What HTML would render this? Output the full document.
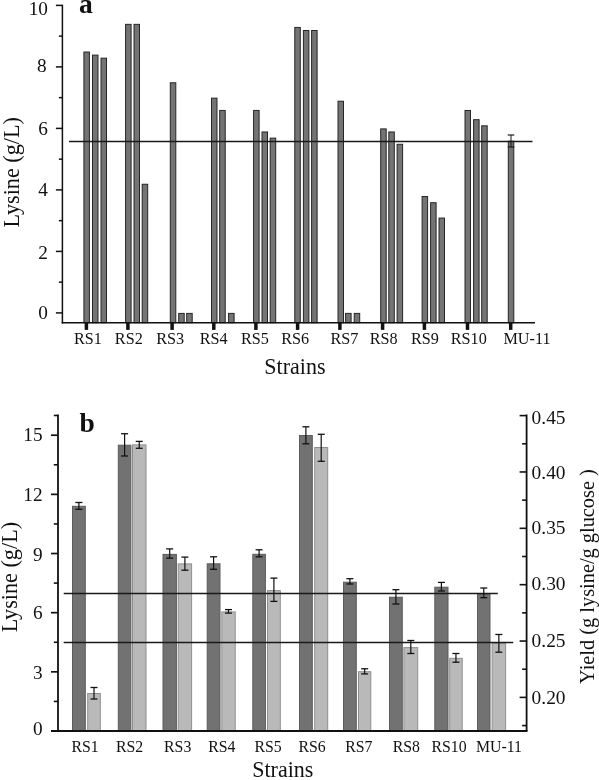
<!DOCTYPE html>
<html><head><meta charset="utf-8"><title>Figure</title>
<style>
html,body{margin:0;padding:0;background:#fff;}
body{width:599px;height:780px;overflow:hidden;}
svg{display:block;opacity:0.999;will-change:transform;}
svg text{font-family:"Liberation Serif",serif;fill:#111;}
</style></head><body>
<svg width="599" height="780" viewBox="0 0 599 780">
<rect x="0" y="0" width="599" height="780" fill="#ffffff"/>
<g id="chart-a">
<rect x="83.90" y="52.02" width="5.50" height="270.68" fill="#747474" stroke="#262626" stroke-width="1.0"/>
<rect x="92.50" y="55.10" width="5.50" height="267.60" fill="#747474" stroke="#262626" stroke-width="1.0"/>
<rect x="101.00" y="58.17" width="5.50" height="264.53" fill="#747474" stroke="#262626" stroke-width="1.0"/>
<line x1="86.4" y1="322.7" x2="86.4" y2="329.9" stroke="#111" stroke-width="3.5"/>
<text x="87.9" y="343.9" font-size="16.2" text-anchor="middle" font-weight="normal">RS1</text>
<rect x="125.60" y="24.35" width="5.50" height="298.35" fill="#747474" stroke="#262626" stroke-width="1.0"/>
<rect x="134.00" y="24.35" width="5.50" height="298.35" fill="#747474" stroke="#262626" stroke-width="1.0"/>
<rect x="142.20" y="184.25" width="5.50" height="138.45" fill="#747474" stroke="#262626" stroke-width="1.0"/>
<line x1="127.9" y1="322.7" x2="127.9" y2="329.9" stroke="#111" stroke-width="3.5"/>
<text x="128.8" y="343.9" font-size="16.2" text-anchor="middle" font-weight="normal">RS2</text>
<rect x="170.30" y="82.77" width="5.50" height="239.93" fill="#747474" stroke="#262626" stroke-width="1.0"/>
<rect x="178.70" y="313.40" width="5.50" height="9.30" fill="#747474" stroke="#262626" stroke-width="1.0"/>
<rect x="186.70" y="313.40" width="5.50" height="9.30" fill="#747474" stroke="#262626" stroke-width="1.0"/>
<line x1="172.1" y1="322.7" x2="172.1" y2="329.9" stroke="#111" stroke-width="3.5"/>
<text x="170.2" y="343.9" font-size="16.2" text-anchor="middle" font-weight="normal">RS3</text>
<rect x="211.50" y="98.15" width="5.50" height="224.55" fill="#747474" stroke="#262626" stroke-width="1.0"/>
<rect x="219.70" y="110.45" width="5.50" height="212.25" fill="#747474" stroke="#262626" stroke-width="1.0"/>
<rect x="228.60" y="313.40" width="5.50" height="9.30" fill="#747474" stroke="#262626" stroke-width="1.0"/>
<line x1="213.8" y1="322.7" x2="213.8" y2="329.9" stroke="#111" stroke-width="3.5"/>
<text x="213.6" y="343.9" font-size="16.2" text-anchor="middle" font-weight="normal">RS4</text>
<rect x="253.60" y="110.45" width="5.50" height="212.25" fill="#747474" stroke="#262626" stroke-width="1.0"/>
<rect x="262.00" y="131.97" width="5.50" height="190.73" fill="#747474" stroke="#262626" stroke-width="1.0"/>
<rect x="270.20" y="138.12" width="5.50" height="184.58" fill="#747474" stroke="#262626" stroke-width="1.0"/>
<line x1="255.9" y1="322.7" x2="255.9" y2="329.9" stroke="#111" stroke-width="3.5"/>
<text x="255" y="343.9" font-size="16.2" text-anchor="middle" font-weight="normal">RS5</text>
<rect x="294.80" y="27.42" width="5.50" height="295.28" fill="#747474" stroke="#262626" stroke-width="1.0"/>
<rect x="303.40" y="30.50" width="5.50" height="292.20" fill="#747474" stroke="#262626" stroke-width="1.0"/>
<rect x="311.60" y="30.50" width="5.50" height="292.20" fill="#747474" stroke="#262626" stroke-width="1.0"/>
<line x1="297.6" y1="322.7" x2="297.6" y2="329.9" stroke="#111" stroke-width="3.5"/>
<text x="295.1" y="343.9" font-size="16.2" text-anchor="middle" font-weight="normal">RS6</text>
<rect x="338.00" y="101.22" width="5.50" height="221.48" fill="#747474" stroke="#262626" stroke-width="1.0"/>
<rect x="345.60" y="313.40" width="5.50" height="9.30" fill="#747474" stroke="#262626" stroke-width="1.0"/>
<rect x="354.20" y="313.40" width="5.50" height="9.30" fill="#747474" stroke="#262626" stroke-width="1.0"/>
<line x1="339.9" y1="322.7" x2="339.9" y2="329.9" stroke="#111" stroke-width="3.5"/>
<text x="344.5" y="343.9" font-size="16.2" text-anchor="middle" font-weight="normal">RS7</text>
<rect x="380.70" y="128.90" width="5.50" height="193.80" fill="#747474" stroke="#262626" stroke-width="1.0"/>
<rect x="388.80" y="131.97" width="5.50" height="190.73" fill="#747474" stroke="#262626" stroke-width="1.0"/>
<rect x="397.10" y="144.27" width="5.50" height="178.43" fill="#747474" stroke="#262626" stroke-width="1.0"/>
<line x1="382.6" y1="322.7" x2="382.6" y2="329.9" stroke="#111" stroke-width="3.5"/>
<text x="383.6" y="343.9" font-size="16.2" text-anchor="middle" font-weight="normal">RS8</text>
<rect x="422.10" y="196.55" width="5.50" height="126.15" fill="#747474" stroke="#262626" stroke-width="1.0"/>
<rect x="430.60" y="202.70" width="5.50" height="120.00" fill="#747474" stroke="#262626" stroke-width="1.0"/>
<rect x="439.00" y="218.07" width="5.50" height="104.62" fill="#747474" stroke="#262626" stroke-width="1.0"/>
<line x1="424.4" y1="322.7" x2="424.4" y2="329.9" stroke="#111" stroke-width="3.5"/>
<text x="424.9" y="343.9" font-size="16.2" text-anchor="middle" font-weight="normal">RS9</text>
<rect x="465.00" y="110.45" width="5.50" height="212.25" fill="#747474" stroke="#262626" stroke-width="1.0"/>
<rect x="473.60" y="119.67" width="5.50" height="203.03" fill="#747474" stroke="#262626" stroke-width="1.0"/>
<rect x="481.70" y="125.82" width="5.50" height="196.88" fill="#747474" stroke="#262626" stroke-width="1.0"/>
<line x1="467.5" y1="322.7" x2="467.5" y2="329.9" stroke="#111" stroke-width="3.5"/>
<text x="468.8" y="343.9" font-size="16.2" text-anchor="middle" font-weight="normal">RS10</text>
<rect x="508.30" y="141.20" width="5.50" height="181.50" fill="#747474" stroke="#262626" stroke-width="1.0"/>
<line x1="510.7" y1="322.7" x2="510.7" y2="329.9" stroke="#111" stroke-width="3.5"/>
<text x="527" y="343.9" font-size="16.2" text-anchor="middle" font-weight="normal">MU-11</text>
<line x1="511.0" y1="135" x2="511.0" y2="147" stroke="#1a1a1a" stroke-width="1"/>
<line x1="507.7" y1="135" x2="514.3" y2="135" stroke="#1a1a1a" stroke-width="1.2"/>
<line x1="507.7" y1="147" x2="514.3" y2="147" stroke="#1a1a1a" stroke-width="1.2"/>
<line x1="62.4" y1="4.7" x2="62.4" y2="323.4" stroke="#111" stroke-width="1.5"/>
<line x1="61.699999999999996" y1="322.7" x2="535" y2="322.7" stroke="#111" stroke-width="1.5"/>
<line x1="55.9" y1="312.9" x2="62.4" y2="312.9" stroke="#111" stroke-width="1.5"/>
<text x="48.0" y="319.0" font-size="19.3" text-anchor="end" font-weight="normal">0</text>
<line x1="58.9" y1="282.15" x2="62.4" y2="282.15" stroke="#111" stroke-width="1.5"/>
<line x1="55.9" y1="251.39999999999998" x2="62.4" y2="251.39999999999998" stroke="#111" stroke-width="1.5"/>
<text x="48.0" y="258.7" font-size="19.3" text-anchor="end" font-weight="normal">2</text>
<line x1="58.9" y1="220.64999999999998" x2="62.4" y2="220.64999999999998" stroke="#111" stroke-width="1.5"/>
<line x1="55.9" y1="189.89999999999998" x2="62.4" y2="189.89999999999998" stroke="#111" stroke-width="1.5"/>
<text x="48.0" y="196.0" font-size="19.3" text-anchor="end" font-weight="normal">4</text>
<line x1="58.9" y1="159.14999999999998" x2="62.4" y2="159.14999999999998" stroke="#111" stroke-width="1.5"/>
<line x1="55.9" y1="128.39999999999998" x2="62.4" y2="128.39999999999998" stroke="#111" stroke-width="1.5"/>
<text x="48.0" y="134.6" font-size="19.3" text-anchor="end" font-weight="normal">6</text>
<line x1="58.9" y1="97.64999999999998" x2="62.4" y2="97.64999999999998" stroke="#111" stroke-width="1.5"/>
<line x1="55.9" y1="66.89999999999998" x2="62.4" y2="66.89999999999998" stroke="#111" stroke-width="1.5"/>
<text x="46.6" y="72.0" font-size="19.3" text-anchor="end" font-weight="normal">8</text>
<line x1="58.9" y1="36.14999999999998" x2="62.4" y2="36.14999999999998" stroke="#111" stroke-width="1.5"/>
<line x1="55.9" y1="5.399999999999977" x2="62.4" y2="5.399999999999977" stroke="#111" stroke-width="1.5"/>
<text x="48.0" y="14.65" font-size="19.3" text-anchor="end" font-weight="normal">10</text>
<line x1="69" y1="141.4" x2="532.5" y2="141.4" stroke="#1a1a1a" stroke-width="1.5"/>
<text transform="translate(18.9 227.4) rotate(-90) scale(0.926 1)" font-size="24" text-anchor="start" font-weight="normal">Lysine (g/L)</text>
<text transform="translate(264.3 374.2) rotate(0) scale(0.95 1)" font-size="23.2" text-anchor="start" font-weight="normal">Strains</text>
<text transform="translate(79.1 12.8) rotate(0) scale(1.0 1)" font-size="27.5" text-anchor="start" font-weight="bold">a</text>
</g>
<g id="chart-b">
<rect x="72.50" y="506.30" width="12.80" height="224.70" fill="#727272" stroke="#5c5c5c" stroke-width="1"/>
<rect x="87.70" y="693.50" width="12.60" height="37.50" fill="#b9b9b9" stroke="#8f8f8f" stroke-width="1"/>
<text x="85" y="752.4" font-size="15.8" text-anchor="middle" font-weight="normal">RS1</text>
<rect x="118.30" y="445.20" width="12.60" height="285.80" fill="#727272" stroke="#5c5c5c" stroke-width="1"/>
<rect x="132.50" y="444.90" width="13.50" height="286.10" fill="#b9b9b9" stroke="#8f8f8f" stroke-width="1"/>
<text x="129.6" y="752.4" font-size="15.8" text-anchor="middle" font-weight="normal">RS2</text>
<rect x="163.00" y="554.40" width="13.40" height="176.60" fill="#727272" stroke="#5c5c5c" stroke-width="1"/>
<rect x="178.20" y="563.90" width="13.40" height="167.10" fill="#b9b9b9" stroke="#8f8f8f" stroke-width="1"/>
<text x="177.7" y="752.4" font-size="15.8" text-anchor="middle" font-weight="normal">RS3</text>
<rect x="207.20" y="563.80" width="12.80" height="167.20" fill="#727272" stroke="#5c5c5c" stroke-width="1"/>
<rect x="221.80" y="611.90" width="13.40" height="119.10" fill="#b9b9b9" stroke="#8f8f8f" stroke-width="1"/>
<text x="221.8" y="752.4" font-size="15.8" text-anchor="middle" font-weight="normal">RS4</text>
<rect x="252.80" y="554.30" width="12.60" height="176.70" fill="#727272" stroke="#5c5c5c" stroke-width="1"/>
<rect x="267.50" y="590.60" width="12.80" height="140.40" fill="#b9b9b9" stroke="#8f8f8f" stroke-width="1"/>
<text x="268.1" y="752.4" font-size="15.8" text-anchor="middle" font-weight="normal">RS5</text>
<rect x="299.50" y="435.50" width="12.80" height="295.50" fill="#727272" stroke="#5c5c5c" stroke-width="1"/>
<rect x="314.70" y="447.50" width="13.00" height="283.50" fill="#b9b9b9" stroke="#8f8f8f" stroke-width="1"/>
<text x="312" y="752.4" font-size="15.8" text-anchor="middle" font-weight="normal">RS6</text>
<rect x="343.50" y="582.20" width="12.80" height="148.80" fill="#727272" stroke="#5c5c5c" stroke-width="1"/>
<rect x="358.50" y="671.70" width="12.30" height="59.30" fill="#b9b9b9" stroke="#8f8f8f" stroke-width="1"/>
<text x="358.8" y="752.4" font-size="15.8" text-anchor="middle" font-weight="normal">RS7</text>
<rect x="389.50" y="597.20" width="12.80" height="133.80" fill="#727272" stroke="#5c5c5c" stroke-width="1"/>
<rect x="403.90" y="647.60" width="13.80" height="83.40" fill="#b9b9b9" stroke="#8f8f8f" stroke-width="1"/>
<text x="406.4" y="752.4" font-size="15.8" text-anchor="middle" font-weight="normal">RS8</text>
<rect x="434.80" y="587.20" width="13.20" height="143.80" fill="#727272" stroke="#5c5c5c" stroke-width="1"/>
<rect x="449.70" y="658.30" width="12.50" height="72.70" fill="#b9b9b9" stroke="#8f8f8f" stroke-width="1"/>
<text x="449" y="752.4" font-size="15.8" text-anchor="middle" font-weight="normal">RS10</text>
<rect x="477.50" y="593.90" width="12.50" height="137.10" fill="#727272" stroke="#5c5c5c" stroke-width="1"/>
<rect x="492.10" y="643.30" width="13.50" height="87.70" fill="#b9b9b9" stroke="#8f8f8f" stroke-width="1"/>
<text x="499" y="752.4" font-size="15.8" text-anchor="middle" font-weight="normal">MU-11</text>
<line x1="63.7" y1="593.5" x2="497.8" y2="593.5" stroke="#1a1a1a" stroke-width="1.5"/>
<line x1="63.7" y1="642.4" x2="513.3" y2="642.4" stroke="#1a1a1a" stroke-width="1.5"/>
<line x1="78.9" y1="502.5" x2="78.9" y2="509.3" stroke="#111" stroke-width="1.2"/>
<line x1="75.4" y1="502.5" x2="82.4" y2="502.5" stroke="#111" stroke-width="1.3"/>
<line x1="75.4" y1="509.3" x2="82.4" y2="509.3" stroke="#111" stroke-width="1.3"/>
<line x1="94.0" y1="687.5" x2="94.0" y2="699" stroke="#111" stroke-width="1.2"/>
<line x1="90.5" y1="687.5" x2="97.5" y2="687.5" stroke="#111" stroke-width="1.3"/>
<line x1="90.5" y1="699" x2="97.5" y2="699" stroke="#111" stroke-width="1.3"/>
<line x1="124.6" y1="433.75" x2="124.6" y2="456.0" stroke="#111" stroke-width="1.2"/>
<line x1="121.1" y1="433.75" x2="128.1" y2="433.75" stroke="#111" stroke-width="1.3"/>
<line x1="121.1" y1="456.0" x2="128.1" y2="456.0" stroke="#111" stroke-width="1.3"/>
<line x1="139.25" y1="441.4" x2="139.25" y2="448.3" stroke="#111" stroke-width="1.2"/>
<line x1="135.75" y1="441.4" x2="142.75" y2="441.4" stroke="#111" stroke-width="1.3"/>
<line x1="135.75" y1="448.3" x2="142.75" y2="448.3" stroke="#111" stroke-width="1.3"/>
<line x1="169.7" y1="548.9" x2="169.7" y2="558.1" stroke="#111" stroke-width="1.2"/>
<line x1="166.2" y1="548.9" x2="173.2" y2="548.9" stroke="#111" stroke-width="1.3"/>
<line x1="166.2" y1="558.1" x2="173.2" y2="558.1" stroke="#111" stroke-width="1.3"/>
<line x1="184.89999999999998" y1="557.1" x2="184.89999999999998" y2="570.2" stroke="#111" stroke-width="1.2"/>
<line x1="181.39999999999998" y1="557.1" x2="188.39999999999998" y2="557.1" stroke="#111" stroke-width="1.3"/>
<line x1="181.39999999999998" y1="570.2" x2="188.39999999999998" y2="570.2" stroke="#111" stroke-width="1.3"/>
<line x1="213.6" y1="556.8" x2="213.6" y2="569.3" stroke="#111" stroke-width="1.2"/>
<line x1="210.1" y1="556.8" x2="217.1" y2="556.8" stroke="#111" stroke-width="1.3"/>
<line x1="210.1" y1="569.3" x2="217.1" y2="569.3" stroke="#111" stroke-width="1.3"/>
<line x1="228.5" y1="609.6" x2="228.5" y2="613.1" stroke="#111" stroke-width="1.2"/>
<line x1="225.0" y1="609.6" x2="232.0" y2="609.6" stroke="#111" stroke-width="1.3"/>
<line x1="225.0" y1="613.1" x2="232.0" y2="613.1" stroke="#111" stroke-width="1.3"/>
<line x1="259.1" y1="549.8" x2="259.1" y2="556.8" stroke="#111" stroke-width="1.2"/>
<line x1="255.60000000000002" y1="549.8" x2="262.6" y2="549.8" stroke="#111" stroke-width="1.3"/>
<line x1="255.60000000000002" y1="556.8" x2="262.6" y2="556.8" stroke="#111" stroke-width="1.3"/>
<line x1="273.9" y1="578.1" x2="273.9" y2="601.4" stroke="#111" stroke-width="1.2"/>
<line x1="270.4" y1="578.1" x2="277.4" y2="578.1" stroke="#111" stroke-width="1.3"/>
<line x1="270.4" y1="601.4" x2="277.4" y2="601.4" stroke="#111" stroke-width="1.3"/>
<line x1="305.9" y1="426.8" x2="305.9" y2="443.8" stroke="#111" stroke-width="1.2"/>
<line x1="302.4" y1="426.8" x2="309.4" y2="426.8" stroke="#111" stroke-width="1.3"/>
<line x1="302.4" y1="443.8" x2="309.4" y2="443.8" stroke="#111" stroke-width="1.3"/>
<line x1="321.2" y1="434.3" x2="321.2" y2="461.3" stroke="#111" stroke-width="1.2"/>
<line x1="317.7" y1="434.3" x2="324.7" y2="434.3" stroke="#111" stroke-width="1.3"/>
<line x1="317.7" y1="461.3" x2="324.7" y2="461.3" stroke="#111" stroke-width="1.3"/>
<line x1="349.9" y1="578.7" x2="349.9" y2="584" stroke="#111" stroke-width="1.2"/>
<line x1="346.4" y1="578.7" x2="353.4" y2="578.7" stroke="#111" stroke-width="1.3"/>
<line x1="346.4" y1="584" x2="353.4" y2="584" stroke="#111" stroke-width="1.3"/>
<line x1="364.65" y1="668.8" x2="364.65" y2="673.9" stroke="#111" stroke-width="1.2"/>
<line x1="361.15" y1="668.8" x2="368.15" y2="668.8" stroke="#111" stroke-width="1.3"/>
<line x1="361.15" y1="673.9" x2="368.15" y2="673.9" stroke="#111" stroke-width="1.3"/>
<line x1="395.9" y1="589.7" x2="395.9" y2="604" stroke="#111" stroke-width="1.2"/>
<line x1="392.4" y1="589.7" x2="399.4" y2="589.7" stroke="#111" stroke-width="1.3"/>
<line x1="392.4" y1="604" x2="399.4" y2="604" stroke="#111" stroke-width="1.3"/>
<line x1="410.79999999999995" y1="640.5" x2="410.79999999999995" y2="653.5" stroke="#111" stroke-width="1.2"/>
<line x1="407.29999999999995" y1="640.5" x2="414.29999999999995" y2="640.5" stroke="#111" stroke-width="1.3"/>
<line x1="407.29999999999995" y1="653.5" x2="414.29999999999995" y2="653.5" stroke="#111" stroke-width="1.3"/>
<line x1="441.4" y1="582.4" x2="441.4" y2="591" stroke="#111" stroke-width="1.2"/>
<line x1="437.9" y1="582.4" x2="444.9" y2="582.4" stroke="#111" stroke-width="1.3"/>
<line x1="437.9" y1="591" x2="444.9" y2="591" stroke="#111" stroke-width="1.3"/>
<line x1="455.95" y1="653.5" x2="455.95" y2="662.2" stroke="#111" stroke-width="1.2"/>
<line x1="452.45" y1="653.5" x2="459.45" y2="653.5" stroke="#111" stroke-width="1.3"/>
<line x1="452.45" y1="662.2" x2="459.45" y2="662.2" stroke="#111" stroke-width="1.3"/>
<line x1="483.75" y1="588" x2="483.75" y2="597.7" stroke="#111" stroke-width="1.2"/>
<line x1="480.25" y1="588" x2="487.25" y2="588" stroke="#111" stroke-width="1.3"/>
<line x1="480.25" y1="597.7" x2="487.25" y2="597.7" stroke="#111" stroke-width="1.3"/>
<line x1="498.85" y1="634.5" x2="498.85" y2="652.2" stroke="#111" stroke-width="1.2"/>
<line x1="495.35" y1="634.5" x2="502.35" y2="634.5" stroke="#111" stroke-width="1.3"/>
<line x1="495.35" y1="652.2" x2="502.35" y2="652.2" stroke="#111" stroke-width="1.3"/>
<line x1="58.0" y1="414.6" x2="58.0" y2="731.9" stroke="#111" stroke-width="1.8"/>
<line x1="51.0" y1="731.0" x2="527.5" y2="731.0" stroke="#111" stroke-width="1.8"/>
<line x1="526.6" y1="414.6" x2="526.6" y2="731.0" stroke="#111" stroke-width="1.8"/>
<line x1="51.0" y1="731.0" x2="58.0" y2="731.0" stroke="#111" stroke-width="1.7"/>
<text x="42.6" y="735.1" font-size="19.3" text-anchor="end" font-weight="normal">0</text>
<line x1="53.8" y1="701.42" x2="58.0" y2="701.42" stroke="#111" stroke-width="1.6"/>
<line x1="51.0" y1="671.84" x2="58.0" y2="671.84" stroke="#111" stroke-width="1.7"/>
<text x="42.6" y="679.0" font-size="19.3" text-anchor="end" font-weight="normal">3</text>
<line x1="53.8" y1="642.26" x2="58.0" y2="642.26" stroke="#111" stroke-width="1.6"/>
<line x1="51.0" y1="612.6800000000001" x2="58.0" y2="612.6800000000001" stroke="#111" stroke-width="1.7"/>
<text x="42.6" y="618.5" font-size="19.3" text-anchor="end" font-weight="normal">6</text>
<line x1="53.8" y1="583.1" x2="58.0" y2="583.1" stroke="#111" stroke-width="1.6"/>
<line x1="51.0" y1="553.52" x2="58.0" y2="553.52" stroke="#111" stroke-width="1.7"/>
<text x="42.6" y="560.5" font-size="19.3" text-anchor="end" font-weight="normal">9</text>
<line x1="53.8" y1="523.94" x2="58.0" y2="523.94" stroke="#111" stroke-width="1.6"/>
<line x1="51.0" y1="494.36" x2="58.0" y2="494.36" stroke="#111" stroke-width="1.7"/>
<text x="42.6" y="500.5" font-size="19.3" text-anchor="end" font-weight="normal">12</text>
<line x1="53.8" y1="464.78000000000003" x2="58.0" y2="464.78000000000003" stroke="#111" stroke-width="1.6"/>
<line x1="51.0" y1="435.20000000000005" x2="58.0" y2="435.20000000000005" stroke="#111" stroke-width="1.7"/>
<text x="42.6" y="440.9" font-size="19.3" text-anchor="end" font-weight="normal">15</text>
<line x1="53.8" y1="415.48" x2="58.0" y2="415.48" stroke="#111" stroke-width="1.6"/>
<line x1="519.6" y1="415.6" x2="526.6" y2="415.6" stroke="#111" stroke-width="1.6"/>
<text x="531.6" y="423.8" font-size="19.4" text-anchor="start" font-weight="normal">0.45</text>
<line x1="522.1" y1="443.78000000000003" x2="526.6" y2="443.78000000000003" stroke="#111" stroke-width="1.6"/>
<line x1="519.6" y1="471.96000000000004" x2="526.6" y2="471.96000000000004" stroke="#111" stroke-width="1.6"/>
<text x="531.6" y="478.9" font-size="19.4" text-anchor="start" font-weight="normal">0.40</text>
<line x1="522.1" y1="500.1400000000001" x2="526.6" y2="500.1400000000001" stroke="#111" stroke-width="1.6"/>
<line x1="519.6" y1="528.3200000000002" x2="526.6" y2="528.3200000000002" stroke="#111" stroke-width="1.6"/>
<text x="531.6" y="534.4" font-size="19.4" text-anchor="start" font-weight="normal">0.35</text>
<line x1="522.1" y1="556.5000000000001" x2="526.6" y2="556.5000000000001" stroke="#111" stroke-width="1.6"/>
<line x1="519.6" y1="584.6800000000002" x2="526.6" y2="584.6800000000002" stroke="#111" stroke-width="1.6"/>
<text x="531.6" y="589.5" font-size="19.4" text-anchor="start" font-weight="normal">0.30</text>
<line x1="522.1" y1="612.8600000000001" x2="526.6" y2="612.8600000000001" stroke="#111" stroke-width="1.6"/>
<line x1="519.6" y1="641.0400000000002" x2="526.6" y2="641.0400000000002" stroke="#111" stroke-width="1.6"/>
<text x="531.6" y="646.7" font-size="19.4" text-anchor="start" font-weight="normal">0.25</text>
<line x1="522.1" y1="669.2200000000001" x2="526.6" y2="669.2200000000001" stroke="#111" stroke-width="1.6"/>
<line x1="519.6" y1="697.4000000000001" x2="526.6" y2="697.4000000000001" stroke="#111" stroke-width="1.6"/>
<text x="531.6" y="703.6" font-size="19.4" text-anchor="start" font-weight="normal">0.20</text>
<line x1="522.1" y1="725.5800000000002" x2="526.6" y2="725.5800000000002" stroke="#111" stroke-width="1.6"/>
<text transform="translate(16.7 632.3) rotate(-90) scale(0.926 1)" font-size="24" text-anchor="start" font-weight="normal">Lysine (g/L)</text>
<text transform="translate(594 683.9) rotate(-90) scale(0.934 1)" font-size="21.8" text-anchor="start" font-weight="normal">Yield (g lysine/g glucose )</text>
<text transform="translate(252.2 777.4) rotate(0) scale(0.95 1)" font-size="23.2" text-anchor="start" font-weight="normal">Strains</text>
<text transform="translate(79.6 431.5) rotate(0) scale(1.0 1)" font-size="27.5" text-anchor="start" font-weight="bold">b</text>
</g>
</svg>
</body></html>
